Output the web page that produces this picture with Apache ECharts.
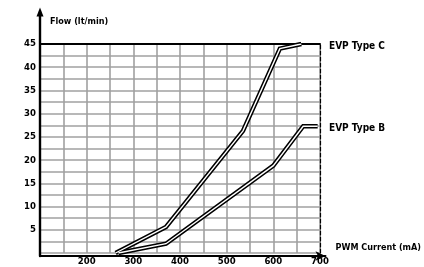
<!DOCTYPE html>
<html>
<head>
<meta charset="utf-8">
<script src="https://cdn.jsdelivr.net/npm/echarts@6/dist/echarts.min.js"></script>
<style>
  html, body { margin: 0; padding: 0; background: #fff; }
  #chart { width: 424px; height: 267px; }
</style>
</head>
<body>
<div id="chart"></div>
<script>
// values
var currentC = [262, 370, 535, 614, 660];
var flowC    = [0, 5.6, 26.3, 44, 45];
var currentB = [268, 370, 600, 664, 695];
var flowB    = [0, 2.0, 18.8, 27.3, 27.3];
var seriesNames = ['EVP Type C', 'EVP Type B'];

function pairs(xs, ys) {
    return xs.map(function (x, i) { return [x, ys[i]]; });
}

var font = 'DejaVu Sans Condensed';
var txt = { fontFamily: font, fontWeight: 'bold', fontSize: 9.5, color: '#000' };
var nameTxt = Object.assign({}, txt, { fontSize: 9 });

function doubleLine(name, data) {
    return [
        {
            name: name, type: 'line', data: data, symbol: 'none',
            xAxisIndex: 0, yAxisIndex: 0,
            lineStyle: { color: '#000', width: 4.5, join: 'miter' }, z: 3
        },
        {
            name: name, type: 'line', data: data, symbol: 'none',
            xAxisIndex: 0, yAxisIndex: 0,
            lineStyle: { color: '#fff', width: 1.4, join: 'miter' }, z: 4
        }
    ];
}

var myChart = echarts.init(document.getElementById('chart'));

option = {
    animation: false,
    grid: [
        { left: 40, top: 44, width: 280, height: 212 },
        { left: 40, top: 12, width: 299, height: 244 }
    ],
    xAxis: [
        {
            type: 'value', gridIndex: 0, min: 100, max: 700, interval: 50,
            axisLine: { show: false },
            axisTick: { show: false },
            axisLabel: Object.assign({}, txt, {
                margin: 4,
                formatter: function (v) { return (v % 100 === 0 && v > 100) ? v : ''; }
            }),
            splitLine: { show: true, lineStyle: { color: '#a0a0a0', width: 1.6 } }
        },
        {
            type: 'value', gridIndex: 0, position: 'top', min: 100, max: 700,
            axisLine: { show: true, onZero: false, lineStyle: { color: '#000', width: 2 } },
            axisTick: { show: false }, axisLabel: { show: false }, splitLine: { show: false }
        },
        {
            type: 'value', gridIndex: 1, min: 0, max: 1,
            name: 'PWM Current (mA)', nameLocation: 'end', nameGap: 0,
            nameTextStyle: Object.assign({}, nameTxt, { align: 'left', verticalAlign: 'bottom', padding: [0, 0, 4, 10] }),
            axisLine: { show: true, onZero: false, symbol: ['none', 'arrow'], symbolSize: [7, 10],
                lineStyle: { color: '#000', width: 2 } },
            axisTick: { show: false }, axisLabel: { show: false }, splitLine: { show: false }
        }
    ],
    yAxis: [
        {
            type: 'value', gridIndex: 0, min: 0, max: 45, interval: 2.5,
            axisLine: { show: false },
            axisTick: { show: false },
            axisLabel: Object.assign({}, txt, {
                margin: 4,
                formatter: function (v) { return (v % 5 === 0 && v > 0) ? v : ''; }
            }),
            splitLine: { show: true, lineStyle: { color: '#a0a0a0', width: 1.6 } }
        },
        {
            type: 'value', gridIndex: 0, position: 'right', min: 0, max: 45,
            axisLine: { show: true, onZero: false, lineStyle: { color: '#000', width: 1.2, type: [4, 2] } },
            axisTick: { show: false }, axisLabel: { show: false }, splitLine: { show: false }
        },
        {
            type: 'value', gridIndex: 1, min: 0, max: 1,
            name: 'Flow (lt/min)', nameLocation: 'end', nameGap: -10,
            nameTextStyle: Object.assign({}, nameTxt, { align: 'left', verticalAlign: 'middle', padding: [0, 0, 0, 10] }),
            axisLine: { show: true, onZero: false, symbol: ['none', 'triangle'], symbolSize: [7, 9],
                lineStyle: { color: '#000', width: 2.4 } },
            axisTick: { show: false }, axisLabel: { show: false }, splitLine: { show: false }
        }
    ],
    graphic: [
        { type: 'text', left: 329, top: 41, style: { text: seriesNames[0], fill: '#000',
            font: 'bold 10px "' + font + '"' } },
        { type: 'text', left: 329, top: 123, style: { text: seriesNames[1], fill: '#000',
            font: 'bold 10px "' + font + '"' } }
    ],
    series: doubleLine(seriesNames[0], pairs(currentC, flowC))
        .concat(doubleLine(seriesNames[1], pairs(currentB, flowB)))
};

myChart.setOption(option);
</script>
</body>
</html>
